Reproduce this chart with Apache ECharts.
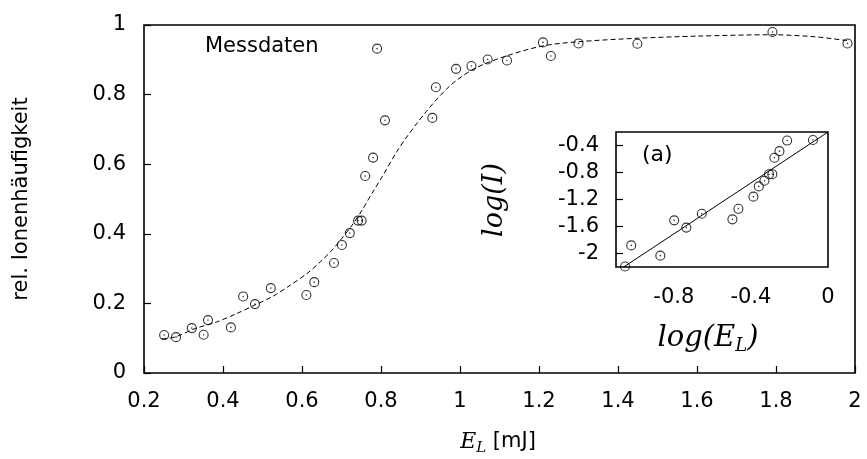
<!DOCTYPE html>
<html>
<head>
<meta charset="utf-8">
<script src="https://cdn.jsdelivr.net/npm/echarts@6/dist/echarts.min.js"></script>
<style>
html,body{margin:0;padding:0;background:#fff;}
#chart{width:867px;height:459px;}
</style>
</head>
<body>
<div id="chart"></div>
<script>
// Main data: laser energy E_L [mJ] vs relative ion yield
var energy = [0.251,0.281,0.321,0.351,0.362,0.420,0.451,0.481,0.521,0.611,0.631,0.681,0.701,0.721,0.742,0.751,0.760,0.780,0.790,0.810,0.930,0.939,0.990,1.029,1.070,1.119,1.210,1.230,1.300,1.449,1.791,1.981];
var ionYield = [0.109,0.103,0.129,0.110,0.152,0.131,0.220,0.198,0.244,0.224,0.261,0.316,0.368,0.402,0.438,0.438,0.566,0.619,0.932,0.726,0.733,0.821,0.874,0.882,0.901,0.898,0.950,0.911,0.947,0.946,0.980,0.947];

// Dashed fit curve
var fitX = [0.245,0.28,0.33,0.385,0.435,0.48,0.524,0.57,0.613,0.646,0.676,0.701,0.727,0.752,0.777,0.803,0.84,0.865,0.89,0.915,0.94,0.965,0.99,1.04,1.12,1.21,1.3,1.45,1.6,1.79,1.9,1.98];
var fitY = [0.098,0.104,0.128,0.147,0.171,0.195,0.219,0.252,0.286,0.319,0.353,0.387,0.425,0.468,0.516,0.564,0.636,0.678,0.716,0.752,0.785,0.815,0.84,0.877,0.912,0.94,0.952,0.962,0.968,0.972,0.966,0.955];

// Inset (a): log(E_L) vs log(I)
var logE = [-1.053,-1.021,-0.870,-0.798,-0.735,-0.655,-0.496,-0.465,-0.387,-0.359,-0.330,-0.306,-0.289,-0.278,-0.252,-0.212,-0.078];
var logI = [-2.193,-1.880,-2.032,-1.509,-1.616,-1.411,-1.494,-1.338,-1.158,-1.006,-0.923,-0.825,-0.825,-0.582,-0.484,-0.327,-0.318];
var lineX = [-1.06, 0];
var lineY = [-2.2, -0.2];

// Tick labels
var mainXTicks = [0.2,0.4,0.6,0.8,1,1.2,1.4,1.6,1.8,2];
var mainYTicks = [0,0.2,0.4,0.6,0.8,1];
var insetXTicks = [-0.8,-0.4,0];
var insetYTicks = [-2,-1.6,-1.2,-0.8,-0.4];

function zip(a,b){return a.map(function(v,i){return [v,b[i]];});}

var SANS = 'DejaVu Sans';
var SERIF = 'DejaVu Serif';

var chart = echarts.init(document.getElementById('chart'), null, {renderer:'canvas'});

var circleStyle = {color:'rgba(0,0,0,0)', borderColor:'#000', borderWidth:1.1};
var dotStyle = {color:'#000'};
var tickStyle = {color:'#000', width:1.2};

var option = {
  backgroundColor:'#fff',
  animation:false,
  grid:[
    {left:144, top:25, width:711, height:348, show:true, borderColor:'#000', borderWidth:1.6, backgroundColor:'transparent'},
    {left:616, top:132, width:212, height:135, show:true, borderColor:'#000', borderWidth:1.6, backgroundColor:'transparent'}
  ],
  xAxis:[
    {gridIndex:0, type:'value', min:0.2, max:2, interval:0.2, position:'bottom',
     axisLine:{show:false, onZero:false}, splitLine:{show:false},
     axisTick:{show:true, inside:true, length:7, lineStyle:tickStyle, customValues:mainXTicks},
     axisLabel:{color:'#000', fontFamily:SANS, fontSize:21, margin:18, customValues:mainXTicks}},
    {gridIndex:1, type:'value', min:-1.1, max:0, position:'bottom',
     axisLine:{show:false, onZero:false}, splitLine:{show:false},
     axisTick:{show:false},
     axisLabel:{color:'#000', fontFamily:SANS, fontSize:21, margin:20, customValues:insetXTicks}}
  ],
  yAxis:[
    {gridIndex:0, type:'value', min:0, max:1, interval:0.2, position:'left',
     axisLine:{show:false, onZero:false}, splitLine:{show:false},
     axisTick:{show:true, inside:true, length:7, lineStyle:tickStyle, customValues:mainYTicks},
     axisLabel:{color:'#000', fontFamily:SANS, fontSize:21, margin:18, customValues:mainYTicks}},
    {gridIndex:1, type:'value', min:-2.2, max:-0.2, position:'left',
     axisLine:{show:false, onZero:false}, splitLine:{show:false},
     axisTick:{show:true, inside:true, length:7, lineStyle:tickStyle, customValues:insetYTicks},
     axisLabel:{color:'#000', fontFamily:SANS, fontSize:21, margin:17, customValues:insetYTicks}}
  ],
  series:[
    {type:'line', xAxisIndex:0, yAxisIndex:0, data:zip(fitX,fitY), smooth:0.3, showSymbol:false, symbol:'none',
     lineStyle:{color:'#000', width:1, type:[5,3]}, z:2},
    {type:'scatter', xAxisIndex:0, yAxisIndex:0, data:zip(energy,ionYield), symbol:'circle', symbolSize:9, itemStyle:circleStyle, z:3},
    {type:'scatter', xAxisIndex:0, yAxisIndex:0, data:zip(energy,ionYield), symbol:'circle', symbolSize:1.6, itemStyle:dotStyle, z:4},
    {type:'line', xAxisIndex:1, yAxisIndex:1, data:zip(lineX,lineY), showSymbol:false, symbol:'none',
     lineStyle:{color:'#000', width:1}, z:2},
    {type:'scatter', xAxisIndex:1, yAxisIndex:1, data:zip(logE,logI), symbol:'circle', symbolSize:9, itemStyle:circleStyle, z:3},
    {type:'scatter', xAxisIndex:1, yAxisIndex:1, data:zip(logE,logI), symbol:'circle', symbolSize:1.6, itemStyle:dotStyle, z:4}
  ],
  graphic:[
    {type:'text', x:22, y:199, rotation:Math.PI/2,
     style:{text:'rel. Ionenhäufigkeit', fontFamily:SANS, fontSize:21, fill:'#000', align:'center', verticalAlign:'middle', textAlign:'center', textVerticalAlign:'middle'}},
    {type:'text', x:498, y:442,
     style:{text:'{e|E}{s|L}{n| [mJ]}', fill:'#000', align:'center', verticalAlign:'middle', textAlign:'center', textVerticalAlign:'middle',
       rich:{
         e:{fontFamily:SERIF, fontStyle:'italic', fontSize:22, lineHeight:28, verticalAlign:'middle'},
         s:{fontFamily:SERIF, fontStyle:'italic', fontSize:15, lineHeight:14, verticalAlign:'bottom'},
         n:{fontFamily:SANS, fontSize:21, lineHeight:28, verticalAlign:'middle'}
       }}},
    {type:'text', x:205, y:47,
     style:{text:'Messdaten', fontFamily:SANS, fontSize:21, fill:'#000', align:'left', verticalAlign:'middle', textAlign:'left', textVerticalAlign:'middle'}},
    {type:'text', x:642, y:155,
     style:{text:'(a)', fontFamily:SANS, fontSize:22, fill:'#000', align:'left', verticalAlign:'middle', textAlign:'left', textVerticalAlign:'middle'}},
    {type:'text', x:708, y:338,
     style:{text:'{e|log(E}{s|L}{e|)}', fill:'#000', align:'center', verticalAlign:'middle', textAlign:'center', textVerticalAlign:'middle',
       rich:{
         e:{fontFamily:SERIF, fontStyle:'italic', fontSize:29, lineHeight:34, verticalAlign:'middle'},
         s:{fontFamily:SERIF, fontStyle:'italic', fontSize:18, lineHeight:16, verticalAlign:'bottom'}
       }}},
    {type:'text', x:495, y:200, rotation:Math.PI/2,
     style:{text:'log(I)', fontFamily:SERIF, fontStyle:'italic', fontSize:27, fill:'#000', align:'center', verticalAlign:'middle', textAlign:'center', textVerticalAlign:'middle'}}
  ]
};
chart.setOption(option);
</script>
</body>
</html>
